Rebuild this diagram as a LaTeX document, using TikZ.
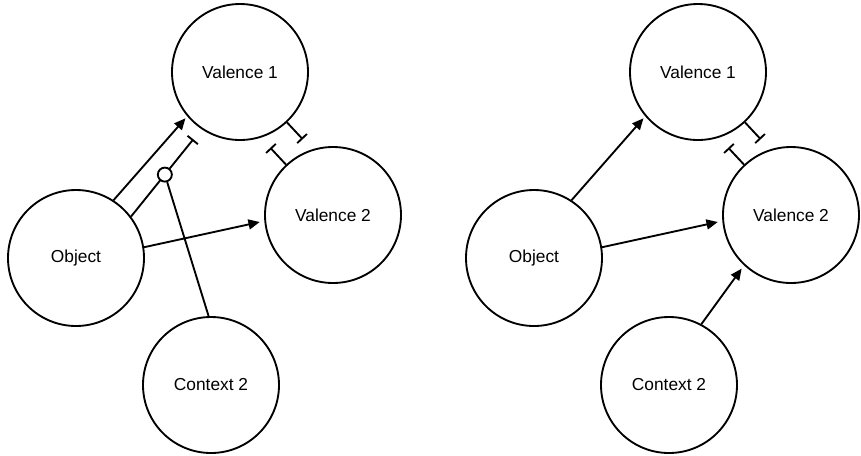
\documentclass[tikz,border=0pt]{standalone}
\usepackage{fontspec}
\setmainfont{Liberation Sans}
\usetikzlibrary{arrows.meta}
\begin{document}
\begin{tikzpicture}[x=0.75pt,y=0.75pt,line width=1.4pt,
    state/.style={circle,draw,minimum size=102pt,inner sep=0pt,font=\fontsize{13}{15}\selectfont},
    act/.style={-{Triangle[length=8.5pt,width=7.5pt]}},
    inh/.style={-{Bar[width=10pt]}},
    gatebox/.style={circle,draw,fill=white,minimum size=10.5pt,inner sep=0pt}]
    \useasboundingbox (0,0) rectangle (861,-455);
    \foreach \p/\s in {A/0,B/458} {
        \node[state] (obj\p) at (76+\s,-258) {Object};
        \node[state] (val\p1) at (240+\s,-72) {Valence 1};
        \node[state] (val\p2) at (333+\s,-215) {Valence 2};
        \node[state] (ctx\p) at (211+\s,-385) {Context 2};
        \draw[act,shorten >=2pt] (obj\p.57) -- (val\p1.220);
        \draw[act,shorten >=3.5pt] (obj\p.9) -- (val\p2.185);
        \draw[inh] (val\p1.-47) -- ++(-47:23) coordinate (bar\p1);
        \draw[inh] (val\p2.133) -- ++(133:23) coordinate (bar\p2);
      }
    % left: context gates the inhibition
    \draw[inh,shorten >=9.75pt] (objA.37) -- node[gatebox,pos=0.48] (gate) {} (valA1.236);
    \draw (ctxA.92) -- (gate);
    % right: context drives valence 2
    \draw[act,shorten >=3pt] (ctxB.62) -- (valB2.227);
  \end{tikzpicture}
\end{document}
